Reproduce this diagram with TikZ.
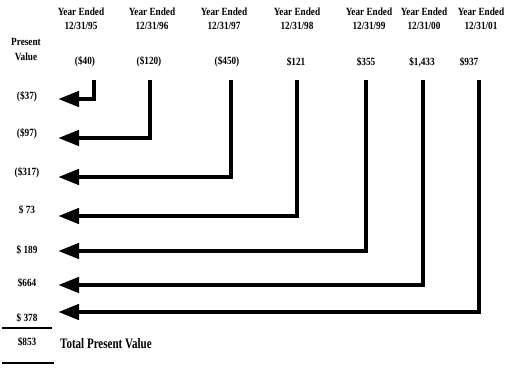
\documentclass[tikz,border=0pt]{standalone}
\usepackage{fontspec}
\usepackage{graphicx}
\setmainfont{Liberation Serif}
\usetikzlibrary{arrows.meta}
\newcommand{\cnd}[1]{\scalebox{0.84}[1]{\bfseries #1}}
\newcommand{\hdr}[1]{\cnd{\begin{tabular}{@{}c@{}}\bfseries Year Ended\\[2.5pt]\bfseries #1\end{tabular}}}
\begin{document}
\begin{tikzpicture}[x=1pt,y=-1pt,
  lbl/.style={font=\fontsize{11}{12}\selectfont\bfseries, inner sep=0pt, anchor=center},
  big/.style={font=\fontsize{14.5}{16}\selectfont\bfseries, inner sep=0pt, anchor=west},
  flow/.style={line width=4.5pt, line join=miter, -{Triangle[length=21pt,width=15pt]}},
  rule/.style={line width=2pt}]
\useasboundingbox (0,0) rectangle (505,367);
% headers
\node[lbl] (h1) at (81,20) {\hdr{12/31/95}};
\node[lbl] (h2) at (152,20) {\hdr{12/31/96}};
\node[lbl] (h3) at (224,20) {\hdr{12/31/97}};
\node[lbl] (h4) at (297,20) {\hdr{12/31/98}};
\node[lbl] (h5) at (369,20) {\hdr{12/31/99}};
\node[lbl] (h6) at (424,20) {\hdr{12/31/00}};
\node[lbl] (h7) at (481,20) {\hdr{12/31/01}};
\node[lbl] (pv) at (26,51) {\cnd{\begin{tabular}{@{}c@{}}\bfseries Present\\[3pt]\bfseries Value\end{tabular}}};
% cash flows
\node[lbl] (c1) at (85,62) {\cnd{(\$40)}};
\node[lbl] (c2) at (149,62) {\cnd{(\$120)}};
\node[lbl] (c3) at (227,62) {\cnd{(\$450)}};
\node[lbl] (c4) at (296,62) {\cnd{\$121}};
\node[lbl] (c5) at (366,62) {\cnd{\$355}};
\node[lbl] (c6) at (422,62) {\cnd{\$1,433}};
\node[lbl] (c7) at (469,62) {\cnd{\$937}};
% present values
\node[lbl] (p1) at (27,97) {\cnd{(\$37)}};
\node[lbl] (p2) at (27,134) {\cnd{(\$97)}};
\node[lbl] (p3) at (27,173) {\cnd{(\$317)}};
\node[lbl] (p4) at (27,210) {\cnd{\$ 73}};
\node[lbl] (p5) at (27,250) {\cnd{\$ 189}};
\node[lbl] (p6) at (27,283) {\cnd{\$664}};
\node[lbl] (p7) at (27,318) {\cnd{\$ 378}};
\node[lbl] (tot) at (27,342) {\cnd{\$853}};
\node[big] (totl) at (60,344) {\scalebox{0.76}[1]{\bfseries Total Present Value}};
% connector coordinates
\coordinate (s1) at (94,80);  \coordinate (e1) at (58,99);
\coordinate (s2) at (150,80); \coordinate (e2) at (58,138);
\coordinate (s3) at (231,80); \coordinate (e3) at (58,177);
\coordinate (s4) at (297,80); \coordinate (e4) at (58,216);
\coordinate (s5) at (366,80); \coordinate (e5) at (58,251);
\coordinate (s6) at (423,80); \coordinate (e6) at (58,285);
\coordinate (s7) at (479,80); \coordinate (e7) at (58,312);
\foreach \i in {1,...,7} {\draw[flow] (s\i) |- (e\i);}
% rules
\coordinate (r1a) at (2,328); \coordinate (r1b) at (52,328);
\coordinate (r2a) at (2,363); \coordinate (r2b) at (54,363);
\draw[rule] (r1a) -- (r1b);
\draw[rule] (r2a) -- (r2b);
\end{tikzpicture}
\end{document}
